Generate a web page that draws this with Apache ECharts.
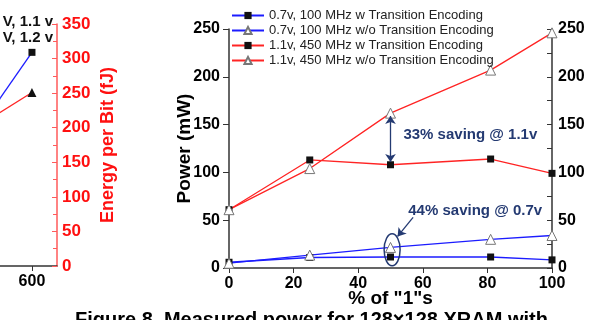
<!DOCTYPE html>
<html>
<head>
<meta charset="utf-8">
<script src="https://cdn.jsdelivr.net/npm/echarts@6/dist/echarts.min.js"></script>
<style>
  html, body { margin: 0; padding: 0; background: #fff; }
  #main { width: 608px; height: 320px; }
</style>
</head>
<body>
<div id="main"></div>
<script>
// measured power vs % of "1"s (right panel) + cut-off energy panel on the left
var pctOnes = [0, 25, 50, 81, 100];
var lowWith = [6, 11, 11.5, 11.5, 8.5];          // 0.7v, 100 MHz w
var lowWithout = [5, 13.5, 21.5, 30, 34];        // 0.7v, 100 MHz w/o
var highWith = [61, 113, 108, 114, 99];          // 1.1v, 450 MHz w
var highWithout = [61, 104, 162, 207, 246];      // 1.1v, 450 MHz w/o
var seriesNames = [
    '0.7v, 100 MHz w Transition Encoding',
    '0.7v, 100 MHz w/o Transition Encoding',
    '1.1v, 450 MHz w Transition Encoding',
    '1.1v, 450 MHz w/o Transition Encoding'
];

// left panel (only its right edge is visible)
var leftX = [400, 600];
var leftBlue = [87, 309];
var leftRed = [154, 251];

var font = 'Liberation Sans, Arial, sans-serif';
var blue = '#1c1cff';
var red = '#ff2424';
var navy = '#243a72';

var dom = document.getElementById('main');
var myChart = echarts.init(dom);
var option;

function pairs(xs, ys) {
    return xs.map(function (x, i) { return [x, ys[i]]; });
}

var tickLbl = { fontFamily: font, fontWeight: 'bold', fontSize: 16, color: '#000' };

option = {
    animation: false,
    textStyle: { fontFamily: font },
    grid: [
        { left: 0, top: 24, width: 57, bottom: 54 },
        { left: 229, top: 29, right: 56, bottom: 52 }
    ],
    legend: {
        data: seriesNames,
        orient: 'vertical',
        left: 226,
        top: 4,
        itemWidth: 32,
        itemHeight: 9,
        itemGap: 2,
        textStyle: { fontFamily: font, fontSize: 13, color: '#222' }
    },
    xAxis: [
        {
            gridIndex: 0, type: 'value', min: 540, max: 647,
            splitLine: { show: false },
            axisLine: { lineStyle: { color: '#333', width: 1.5 } },
            axisTick: { customValues: [600], length: 5, lineStyle: { color: '#333' } },
            axisLabel: Object.assign({ customValues: [600], margin: 8 }, tickLbl)
        },
        {
            gridIndex: 1, type: 'value', min: 0, max: 100, interval: 20,
            splitLine: { show: false },
            axisLine: { onZero: false, lineStyle: { color: '#333', width: 1.5 } },
            axisTick: { length: 5, lineStyle: { color: '#333' } },
            axisLabel: Object.assign({ margin: 8 }, tickLbl),
            name: '% of "1"s',
            nameLocation: 'middle',
            nameMoveOverlap: false,
            nameGap: 21,
            nameTextStyle: { fontFamily: font, fontWeight: 'bold', fontSize: 19, color: '#000' }
        }
    ],
    yAxis: [
        {
            gridIndex: 0, type: 'value', position: 'right', min: 0, max: 350, interval: 50,
            splitLine: { show: false },
            axisLine: { lineStyle: { color: '#ff5a5a', width: 1.5 } },
            axisTick: { inside: true, length: 5, lineStyle: { color: '#ff5a5a' } },
            minorTick: { show: true, splitNumber: 2, length: 4, lineStyle: { color: '#ff5a5a' } },
            axisLabel: { margin: 5, fontFamily: font, fontWeight: 'bold', fontSize: 17, color: '#ff1010' },
            name: 'Energy per Bit (fJ)',
            nameLocation: 'middle',
            nameRotate: 90,
            nameGap: 42,
            nameTextStyle: { fontFamily: font, fontWeight: 'bold', fontSize: 18, color: '#ff1010' }
        },
        {
            gridIndex: 1, type: 'value', min: 0, max: 250, interval: 50,
            splitLine: { show: false },
            axisLine: { show: true, lineStyle: { color: '#333', width: 1.5 } },
            axisTick: { show: true, length: 6, lineStyle: { color: '#333' } },
            axisLabel: Object.assign({ margin: 9 }, tickLbl),
            name: 'Power (mW)',
            nameLocation: 'middle',
            nameRotate: 90,
            nameMoveOverlap: false,
            nameGap: 35,
            nameTextStyle: { fontFamily: font, fontWeight: 'bold', fontSize: 19, color: '#000' }
        },
        {
            gridIndex: 1, type: 'value', position: 'right', min: 0, max: 250, interval: 50,
            splitLine: { show: false },
            axisLine: { show: true, lineStyle: { color: '#333', width: 1.5 } },
            axisTick: { show: true, inside: true, length: 5, lineStyle: { color: '#333' } },
            minorTick: { show: true, splitNumber: 2, length: 5, lineStyle: { color: '#333' } },
            axisLabel: Object.assign({ margin: 6 }, tickLbl)
        }
    ],
    series: [
        {
            type: 'line', xAxisIndex: 0, yAxisIndex: 0,
            data: pairs(leftX, leftBlue),
            symbol: 'rect', symbolSize: 7,
            lineStyle: { color: blue, width: 1.3 },
            itemStyle: { color: '#111' }
        },
        {
            type: 'line', xAxisIndex: 0, yAxisIndex: 0,
            data: pairs(leftX, leftRed),
            symbol: 'triangle', symbolSize: 9,
            lineStyle: { color: red, width: 1.3 },
            itemStyle: { color: '#111' }
        },
        {
            name: seriesNames[0], type: 'line', xAxisIndex: 1, yAxisIndex: 1,
            data: pairs(pctOnes, lowWith),
            symbol: 'rect', symbolSize: 7,
            lineStyle: { color: blue, width: 1.3 },
            itemStyle: { color: '#111' },
            z: 3
        },
        {
            name: seriesNames[1], type: 'line', xAxisIndex: 1, yAxisIndex: 1,
            data: pairs(pctOnes, lowWithout),
            symbol: 'triangle', symbolSize: 10,
            lineStyle: { color: blue, width: 1.3 },
            itemStyle: { color: '#fff', borderColor: '#777', borderWidth: 1 },
            markLine: {
                silent: true,
                symbol: ['none', 'arrow'],
                symbolSize: 8,
                label: { show: false },
                lineStyle: { color: navy, width: 1.3, type: 'solid' },
                data: [[{ coord: [57, 53] }, { coord: [52.2, 33] }]]
            }
        },
        {
            name: seriesNames[2], type: 'line', xAxisIndex: 1, yAxisIndex: 1,
            data: pairs(pctOnes, highWith),
            symbol: 'rect', symbolSize: 7,
            lineStyle: { color: red, width: 1.3 },
            itemStyle: { color: '#111' },
            z: 3,
            markLine: {
                silent: true,
                symbol: ['arrow', 'arrow'],
                symbolSize: 8,
                label: { show: false },
                lineStyle: { color: navy, width: 1.3, type: 'solid' },
                data: [[{ coord: [50, 159] }, { coord: [50, 111] }]]
            }
        },
        {
            name: seriesNames[3], type: 'line', xAxisIndex: 1, yAxisIndex: 1,
            data: pairs(pctOnes, highWithout),
            symbol: 'triangle', symbolSize: 10,
            lineStyle: { color: red, width: 1.3 },
            itemStyle: { color: '#fff', borderColor: '#777', borderWidth: 1 }
        }
    ]
};

if (option && typeof option === 'object') {
    myChart.setOption(option);
}

// annotations placed from data coords
var ring = myChart.convertToPixel({ gridIndex: 1 }, [50.5, 19]);
var lbl33 = myChart.convertToPixel({ gridIndex: 1 }, [54, 139]);
var lbl44 = myChart.convertToPixel({ gridIndex: 1 }, [55.5, 60]);
var annoText = { fontFamily: font, fontWeight: 'bold', fontSize: 15, fill: navy, verticalAlign: 'middle' };

myChart.setOption({
    graphic: [
        {
            type: 'ellipse',
            shape: { cx: ring[0], cy: ring[1], rx: 8, ry: 16 },
            style: { fill: 'none', stroke: navy, lineWidth: 1.5 },
            z: 10
        },
        { type: 'text', x: lbl33[0], y: lbl33[1], style: Object.assign({ text: '33% saving @ 1.1v' }, annoText), z: 10 },
        { type: 'text', x: lbl44[0], y: lbl44[1], style: Object.assign({ text: '44% saving @ 0.7v' }, annoText), z: 10 },
        {
            type: 'text', x: 53, y: 22,
            style: { text: 'V, 1.1 v', fontFamily: font, fontWeight: 'bold', fontSize: 15, fill: '#111', align: 'right', verticalAlign: 'middle' }
        },
        {
            type: 'text', x: 53, y: 38,
            style: { text: 'V, 1.2 v', fontFamily: font, fontWeight: 'bold', fontSize: 15, fill: '#111', align: 'right', verticalAlign: 'middle' }
        },
        {
            type: 'text', x: 75, y: 310,
            style: { text: 'Figure 8. Measured power for 128\u00d7128 XRAM with', fontFamily: font, fontWeight: 'bold', fontSize: 20, fill: '#000' }
        }
    ]
});
</script>
</body>
</html>
